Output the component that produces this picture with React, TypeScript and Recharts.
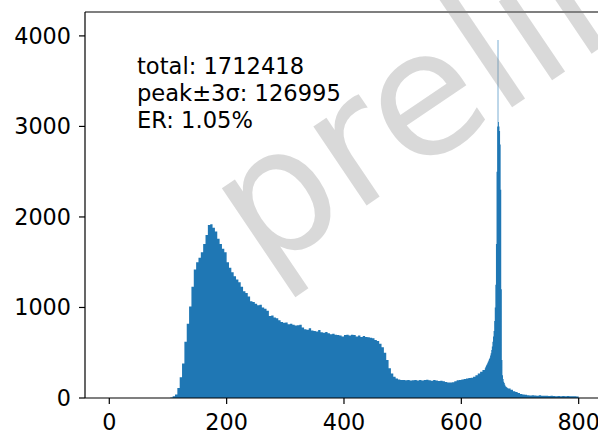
import React from 'react';
import { AreaChart, Area, XAxis, YAxis, ReferenceLine } from 'recharts';

const FONT = '"DejaVu Sans", sans-serif';
const BLUE = '#1f77b4';

// Axis limits and ticks
const X_MIN = -41.4;
const X_MAX = 869.4;
const Y_MAX = 4264;
const X_TICKS = [0, 200, 400, 600, 800];
const Y_TICKS = [0, 1000, 2000, 3000, 4000];

// Low-energy part of the spectrum: 4-unit bins starting at 100
const LOW_START = 100;
const LOW_WIDTH = 4;
const lowCounts = [
  0, 5, 20, 40, 110, 230, 380, 620, 820, 1010, 1230, 1420, 1500, 1550, 1610, 1700,
  1800, 1910, 1920, 1880, 1840, 1760, 1700, 1650, 1610, 1500, 1440, 1390, 1345, 1310,
  1280, 1230, 1180, 1160, 1120, 1070, 1060, 1040, 1025, 1030, 1000, 985, 965, 905,
  910, 890, 880, 860, 840, 830, 835, 815, 820, 810, 800, 805, 810, 780, 760, 755,
  770, 745, 740, 735, 750, 725, 720, 730, 715, 705, 710, 700, 695, 690, 680, 695,
  700, 690, 700, 695, 680, 690, 675, 685, 675, 670, 665, 660, 640, 630, 600, 560,
  500, 420, 330, 270, 235, 215, 205, 200, 198, 195, 200, 192, 196, 200, 194, 198,
  192, 200, 202, 196, 190, 198, 192, 188, 190, 185, 178, 172, 170, 175, 185, 195,
  200, 205, 210, 215, 220, 225, 235, 250, 270, 290, 310,
];

// Photopeak region: 1-unit bins starting at 640
const PEAK_START = 640;
const PEAK_WIDTH = 1;
const peakCounts = [
  330, 345, 360, 370, 385, 400, 415, 430, 445, 470, 495, 530, 570, 620, 680, 740,
  850, 1000, 1250, 1700, 2500, 3000, 3955, 3050, 3000, 2950, 2800, 2300, 1200, 420,
  250, 210, 180, 165, 145, 130, 125, 118, 112, 108,
];

// High-energy tail: 4-unit bins starting at 680
const TAIL_START = 680;
const TAIL_WIDTH = 4;
const tailCounts = [
  105, 90, 75, 65, 55, 45, 40, 35, 30, 28, 30, 28, 26, 30, 24, 24, 25, 22, 26, 22,
  20, 22, 20, 22, 20, 22, 18, 20, 18, 16, 0, 0,
];

const STATS = ['total: 1712418', 'peak\u00b13\u03c3: 126995', 'ER: 1.05%'];
const WATERMARK = 'preliminary';

type Bin = { x: number; count: number };

function binsFrom(start: number, width: number, counts: number[]): Bin[] {
  return counts.map((count, i) => ({ x: start + i * width, count }));
}

const histogram: Bin[] = [
  ...binsFrom(LOW_START, LOW_WIDTH, lowCounts),
  ...binsFrom(PEAK_START, PEAK_WIDTH, peakCounts),
  ...binsFrom(TAIL_START, TAIL_WIDTH, tailCounts),
];

const tickStyle = { fill: '#000', fontSize: 22.3, fontFamily: FONT };
const lineStyle = { stroke: '#000', strokeWidth: 1.2 };

export default function App() {
  return (
    <div
      style={{
        position: 'absolute',
        left: 0,
        top: 0,
        width: 598,
        height: 436,
        overflow: 'hidden',
        background: '#fff',
      }}
    >
      <AreaChart
        width={640}
        height={436}
        data={histogram}
        margin={{ top: 12, right: 20.6, bottom: 0, left: 0 }}
      >
        <XAxis
          dataKey="x"
          type="number"
          domain={[X_MIN, X_MAX]}
          ticks={X_TICKS}
          allowDataOverflow
          interval={0}
          height={38}
          tickSize={6}
          tickMargin={10}
          axisLine={lineStyle}
          tickLine={lineStyle}
          tick={tickStyle}
        />
        <YAxis
          type="number"
          domain={[0, Y_MAX]}
          ticks={Y_TICKS}
          allowDataOverflow
          interval={0}
          width={85}
          tickSize={6}
          tickMargin={8}
          axisLine={lineStyle}
          tickLine={lineStyle}
          tick={tickStyle}
        />
        <ReferenceLine y={Y_MAX} stroke="#000" strokeWidth={1.2} />
        <Area
          type="stepAfter"
          dataKey="count"
          stroke="none"
          fill={BLUE}
          fillOpacity={1}
          dot={false}
          activeDot={false}
          isAnimationActive={false}
        />
      </AreaChart>
      <svg
        width={598}
        height={436}
        style={{ position: 'absolute', left: 0, top: 0, pointerEvents: 'none' }}
      >
        {STATS.map((line, i) => (
          <text
            key={line}
            x={137}
            y={74 + i * 27}
            fontFamily={FONT}
            fontSize={22.6}
            fill="#000"
          >
            {line}
          </text>
        ))}
        <text
          x={262}
          y={276}
          transform="rotate(-34 262 276)"
          fontFamily={FONT}
          fontSize={174}
          fill="#808080"
          fillOpacity={0.3}
        >
          {WATERMARK}
        </text>
      </svg>
    </div>
  );
}
